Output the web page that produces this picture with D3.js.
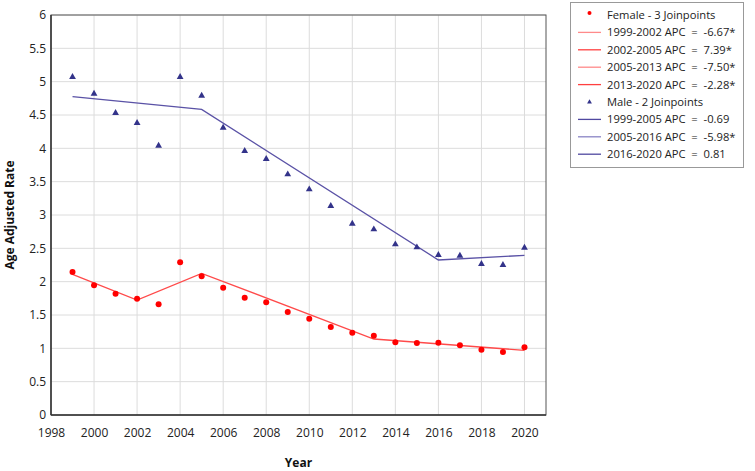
<!DOCTYPE html>
<html><head><meta charset="utf-8">
<script src="https://cdn.jsdelivr.net/npm/d3@7"></script>
<style>body{margin:0;background:#fff;}svg{display:block;font-family:"Open Sans","Noto Sans",sans-serif;}</style>
</head><body>
<svg id="c" width="755" height="471"></svg>
<script>
const years = [1999,2000,2001,2002,2003,2004,2005,2006,2007,2008,2009,2010,2011,2012,2013,2014,2015,2016,2017,2018,2019,2020];
const female = [2.145,1.945,1.82,1.745,1.66,2.29,2.08,1.91,1.76,1.69,1.545,1.445,1.32,1.235,1.19,1.09,1.08,1.085,1.045,0.98,0.945,1.015];
const male = [5.07,4.82,4.53,4.38,4.04,5.07,4.79,4.31,3.96,3.84,3.61,3.385,3.135,2.87,2.785,2.56,2.515,2.40,2.39,2.265,2.25,2.51];
const femaleFitYears = [1999,2002,2005,2013,2020];
const femaleFit = [2.11,1.725,2.125,1.14,0.97];
const maleFitYears = [1999,2005,2016,2020];
const maleFit = [4.775,4.585,2.325,2.395];
const xTicks = [1998,2000,2002,2004,2006,2008,2010,2012,2014,2016,2018,2020];
const yTicks = [0,0.5,1,1.5,2,2.5,3,3.5,4,4.5,5,5.5,6];
const legendItems = [
  {type:"dot", label:"Female - 3 Joinpoints"},
  {type:"fline", label:"1999-2002 APC  =  -6.67*", shade:0},
  {type:"fline", label:"2002-2005 APC  =  7.39*", shade:1},
  {type:"fline", label:"2005-2013 APC  =  -7.50*", shade:0},
  {type:"fline", label:"2013-2020 APC  =  -2.28*", shade:1},
  {type:"tri", label:"Male - 2 Joinpoints"},
  {type:"mline", label:"1999-2005 APC  =  -0.69", shade:1},
  {type:"mline", label:"2005-2016 APC  =  -5.98*", shade:0},
  {type:"mline", label:"2016-2020 APC  =  0.81", shade:1}
];

const svg = d3.select("#c");
const L=51, R=546, T=15, B=415;
const x = d3.scaleLinear().domain([1998,2021]).range([L,R]);
const y = d3.scaleLinear().domain([0,6]).range([B,T]);

const FRED="#ff0000", FLINE="#ff4a4a", MTRI="#33338a", MLINE="#5a52a6";

// grid
svg.append("g").selectAll("line").data(xTicks.slice(1)).join("line")
  .attr("x1",d=>x(d)).attr("x2",d=>x(d)).attr("y1",T).attr("y2",B)
  .attr("stroke","#dcdcdc").attr("stroke-width",1);
svg.append("g").selectAll("line").data(yTicks.slice(1)).join("line")
  .attr("x1",L).attr("x2",R).attr("y1",d=>y(d)).attr("y2",d=>y(d))
  .attr("stroke","#dcdcdc").attr("stroke-width",1);

// border
svg.append("rect").attr("x",L).attr("y",T).attr("width",R-L).attr("height",B-T)
  .attr("fill","none").attr("stroke","#555").attr("stroke-width",1);
svg.append("line").attr("x1",L).attr("x2",L).attr("y1",T).attr("y2",B).attr("stroke","#333").attr("stroke-width",1.5);
svg.append("line").attr("x1",L).attr("x2",R).attr("y1",B).attr("y2",B).attr("stroke","#333").attr("stroke-width",1.5);

// axes
const xa = svg.append("g").attr("transform",`translate(0,${B})`)
  .call(d3.axisBottom(x).tickValues(xTicks).tickFormat(d3.format("d")).tickSize(0).tickPadding(13));
xa.select(".domain").remove();
xa.selectAll("text").attr("font-size",12).attr("fill","#222").attr("font-family","'Open Sans',sans-serif");
const ya = svg.append("g").attr("transform",`translate(${L},0)`)
  .call(d3.axisLeft(y).tickValues(yTicks).tickFormat(d=>String(d)).tickSize(0).tickPadding(5));
ya.select(".domain").remove();
ya.selectAll("text").attr("font-size",12).attr("fill","#222").attr("font-family","'Open Sans',sans-serif");

svg.append("text").attr("x",(L+R)/2).attr("y",467).attr("text-anchor","middle")
  .attr("font-size",12).attr("font-weight","bold").attr("fill","#111").text("Year");
svg.append("text").attr("transform",`translate(14,${(T+B)/2}) rotate(-90)`).attr("text-anchor","middle")
  .attr("font-size",12).attr("font-weight","bold").attr("fill","#111").text("Age Adjusted Rate");

// fits
const line = d3.line().x(d=>x(d[0])).y(d=>y(d[1]));
svg.append("path").datum(maleFitYears.map((yr,i)=>[yr,maleFit[i]])).attr("d",line)
  .attr("fill","none").attr("stroke",MLINE).attr("stroke-width",1.3);
svg.append("path").datum(femaleFitYears.map((yr,i)=>[yr,femaleFit[i]])).attr("d",line)
  .attr("fill","none").attr("stroke",FLINE).attr("stroke-width",1.3);

// points
const tri = d3.symbol().type(d3.symbolTriangle).size(20);
svg.append("g").selectAll("path").data(years.map((yr,i)=>[yr,male[i]])).join("path")
  .attr("d",tri).attr("transform",d=>`translate(${x(d[0])},${y(d[1])})`).attr("fill",MTRI);
svg.append("g").selectAll("circle").data(years.map((yr,i)=>[yr,female[i]])).join("circle")
  .attr("cx",d=>x(d[0])).attr("cy",d=>y(d[1])).attr("r",3).attr("fill",FRED);

// legend
const lg = svg.append("g");
lg.append("rect").attr("x",570.5).attr("y",2.5).attr("width",173).attr("height",165)
  .attr("fill","#fff").attr("stroke","#999").attr("stroke-width",1);
const rowY = i => 15 + i*17.4;
legendItems.forEach((it,i)=>{
  const cy = rowY(i);
  if(it.type==="dot"){
    lg.append("circle").attr("cx",589.5).attr("cy",cy-2).attr("r",2).attr("fill",FRED);
  } else if(it.type==="tri"){
    lg.append("path").attr("d",d3.symbol().type(d3.symbolTriangle).size(10)).attr("transform",`translate(589.5,${cy})`).attr("fill",MTRI);
  } else {
    const c = it.type==="fline" ? (it.shade? "#ff4040":"#ff8a8a") : (it.shade? "#5048a0":"#8a84c4");
    lg.append("line").attr("x1",578).attr("x2",601).attr("y1",cy).attr("y2",cy).attr("stroke",c).attr("stroke-width",1.3);
  }
  lg.append("text").attr("x",607).attr("y",cy+4).attr("font-size",11.2).attr("fill","#222")
    .attr("xml:space","preserve").style("white-space","pre").text(it.label);
});
</script>
</body></html>
